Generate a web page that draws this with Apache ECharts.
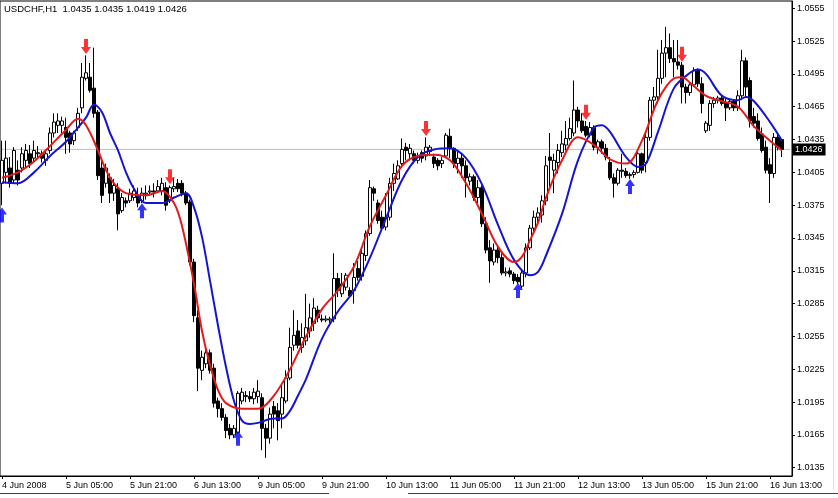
<!DOCTYPE html>
<html><head><meta charset="utf-8">
<script src="https://cdn.jsdelivr.net/npm/echarts@6/dist/echarts.min.js"></script>
<style>html,body{margin:0;padding:0;background:#fff}#c{width:838px;height:498px}</style>
</head><body><div id="c"></div>
<script>
const symbolName = 'USDCHF,H1';
const lastQuote = [1.0435, 1.0435, 1.0419, 1.0426];
const currentPrice = 1.0426;
const barCount = 198;
const tickLabels = ['4 Jun 2008','5 Jun 05:00','5 Jun 21:00','6 Jun 13:00','9 Jun 05:00','9 Jun 21:00','10 Jun 13:00','11 Jun 05:00','11 Jun 21:00','12 Jun 13:00','13 Jun 05:00','15 Jun 21:00','16 Jun 13:00'];
const priceTicks = [1.0135,1.0165,1.0195,1.0225,1.0255,1.0285,1.0315,1.0345,1.0375,1.0405,1.0435,1.0465,1.0495,1.0525,1.0555];
// [open, close, low, high]
const candles = [
[1.0395,1.0416,1.0375,1.0434],[1.0405,1.0418,1.0395,1.0434],[1.0409,1.0395,1.0391,1.0419],[1.0398,1.0425,1.0395,1.0428],
[1.0407,1.0398,1.0393,1.0416],[1.0409,1.0422,1.0405,1.0428],[1.0416,1.0425,1.0409,1.0431],[1.0422,1.0413,1.0409,1.0430],
[1.0418,1.0425,1.0414,1.0434],[1.0422,1.0423,1.0418,1.0429],[1.0422,1.0418,1.0414,1.0425],[1.0416,1.0422,1.0411,1.0425],
[1.0425,1.0441,1.0422,1.0446],[1.0441,1.0451,1.0437,1.0459],[1.0448,1.0452,1.0441,1.0459],[1.0448,1.0452,1.0441,1.0456],
[1.0446,1.0437,1.0422,1.0455],[1.0441,1.0431,1.0423,1.0443],[1.0434,1.0441,1.0430,1.0443],[1.0446,1.0459,1.0443,1.0464],
[1.0464,1.0492,1.0459,1.0505],[1.0491,1.0496,1.0489,1.0512],[1.0492,1.0480,1.0478,1.0505],[1.0482,1.0459,1.0455,1.0519],
[1.0460,1.0402,1.0398,1.0462],[1.0409,1.0384,1.0377,1.0416],[1.0395,1.0409,1.0391,1.0413],[1.0400,1.0386,1.0377,1.0404],
[1.0386,1.0393,1.0379,1.0399],[1.0390,1.0367,1.0352,1.0395],[1.0370,1.0382,1.0368,1.0386],[1.0379,1.0377,1.0373,1.0382],
[1.0379,1.0386,1.0377,1.0390],[1.0382,1.0388,1.0379,1.0393],[1.0384,1.0377,1.0373,1.0391],[1.0379,1.0386,1.0377,1.0391],
[1.0385,1.0386,1.0380,1.0393],[1.0387,1.0388,1.0384,1.0393],[1.0388,1.0387,1.0382,1.0395],[1.0388,1.0392,1.0386,1.0398],
[1.0388,1.0395,1.0384,1.0400],[1.0391,1.0375,1.0370,1.0396],[1.0379,1.0391,1.0377,1.0393],[1.0390,1.0392,1.0387,1.0400],
[1.0395,1.0390,1.0387,1.0399],[1.0395,1.0386,1.0383,1.0398],[1.0386,1.0377,1.0375,1.0388],[1.0378,1.0323,1.0320,1.0380],
[1.0323,1.0274,1.0268,1.0326],[1.0272,1.0226,1.0205,1.0279],[1.0224,1.0236,1.0215,1.0242],[1.0230,1.0240,1.0226,1.0245],
[1.0240,1.0224,1.0221,1.0243],[1.0226,1.0194,1.0190,1.0230],[1.0196,1.0189,1.0181,1.0199],[1.0189,1.0181,1.0178,1.0194],
[1.0181,1.0169,1.0162,1.0184],[1.0171,1.0165,1.0161,1.0175],[1.0165,1.0171,1.0162,1.0174],[1.0167,1.0203,1.0166,1.0205],
[1.0196,1.0204,1.0193,1.0208],[1.0200,1.0201,1.0195,1.0205],[1.0200,1.0198,1.0195,1.0205],[1.0198,1.0204,1.0193,1.0208],
[1.0200,1.0205,1.0194,1.0215],[1.0199,1.0171,1.0151,1.0203],[1.0171,1.0162,1.0144,1.0175],[1.0162,1.0184,1.0157,1.0190],
[1.0191,1.0184,1.0171,1.0196],[1.0187,1.0178,1.0160,1.0194],[1.0184,1.0199,1.0171,1.0212],[1.0196,1.0217,1.0194,1.0224],
[1.0217,1.0245,1.0215,1.0263],[1.0247,1.0256,1.0242,1.0279],[1.0260,1.0247,1.0244,1.0270],[1.0245,1.0254,1.0240,1.0267],
[1.0251,1.0263,1.0247,1.0294],[1.0260,1.0272,1.0254,1.0285],[1.0267,1.0281,1.0260,1.0290],[1.0279,1.0272,1.0268,1.0283],
[1.0271,1.0270,1.0268,1.0275],[1.0270,1.0271,1.0268,1.0274],[1.0270,1.0271,1.0267,1.0273],[1.0271,1.0308,1.0268,1.0331],
[1.0308,1.0297,1.0291,1.0313],[1.0294,1.0303,1.0291,1.0313],[1.0300,1.0311,1.0297,1.0313],[1.0297,1.0292,1.0291,1.0300],
[1.0297,1.0309,1.0285,1.0322],[1.0317,1.0309,1.0306,1.0324],[1.0310,1.0331,1.0306,1.0334],[1.0329,1.0349,1.0324,1.0352],
[1.0349,1.0391,1.0347,1.0398],[1.0390,1.0386,1.0379,1.0392],[1.0377,1.0361,1.0358,1.0380],[1.0364,1.0354,1.0352,1.0370],
[1.0355,1.0364,1.0352,1.0386],[1.0364,1.0395,1.0361,1.0400],[1.0395,1.0404,1.0388,1.0413],[1.0399,1.0411,1.0398,1.0416],
[1.0413,1.0426,1.0409,1.0436],[1.0428,1.0425,1.0416,1.0432],[1.0422,1.0427,1.0416,1.0431],[1.0422,1.0416,1.0413,1.0425],
[1.0416,1.0420,1.0413,1.0423],[1.0423,1.0418,1.0414,1.0425],[1.0420,1.0428,1.0416,1.0437],[1.0424,1.0428,1.0420,1.0430],
[1.0419,1.0413,1.0409,1.0422],[1.0416,1.0411,1.0407,1.0418],[1.0413,1.0416,1.0409,1.0419],[1.0420,1.0439,1.0418,1.0441],
[1.0438,1.0427,1.0418,1.0445],[1.0427,1.0413,1.0409,1.0428],[1.0413,1.0418,1.0404,1.0425],[1.0418,1.0411,1.0400,1.0422],
[1.0411,1.0400,1.0382,1.0416],[1.0397,1.0401,1.0393,1.0404],[1.0401,1.0382,1.0379,1.0403],[1.0382,1.0391,1.0377,1.0398],
[1.0391,1.0358,1.0355,1.0393],[1.0358,1.0334,1.0331,1.0364],[1.0336,1.0324,1.0304,1.0343],[1.0323,1.0334,1.0320,1.0340],
[1.0334,1.0327,1.0322,1.0338],[1.0327,1.0313,1.0311,1.0331],[1.0313,1.0314,1.0310,1.0318],[1.0315,1.0312,1.0309,1.0318],
[1.0312,1.0306,1.0303,1.0314],[1.0309,1.0305,1.0303,1.0312],[1.0301,1.0313,1.0299,1.0315],[1.0313,1.0336,1.0309,1.0340],
[1.0336,1.0354,1.0334,1.0357],[1.0354,1.0364,1.0349,1.0370],[1.0364,1.0368,1.0358,1.0373],[1.0366,1.0379,1.0359,1.0384],
[1.0379,1.0411,1.0375,1.0420],[1.0419,1.0416,1.0391,1.0441],[1.0407,1.0416,1.0386,1.0422],[1.0414,1.0425,1.0404,1.0431],
[1.0423,1.0431,1.0419,1.0443],[1.0430,1.0436,1.0425,1.0452],[1.0436,1.0445,1.0434,1.0455],[1.0441,1.0462,1.0438,1.0489],
[1.0462,1.0452,1.0446,1.0465],[1.0452,1.0443,1.0441,1.0459],[1.0447,1.0439,1.0437,1.0452],[1.0439,1.0446,1.0437,1.0451],
[1.0446,1.0428,1.0425,1.0448],[1.0428,1.0433,1.0422,1.0435],[1.0433,1.0427,1.0422,1.0435],[1.0427,1.0419,1.0416,1.0431],
[1.0414,1.0400,1.0398,1.0419],[1.0400,1.0395,1.0382,1.0404],[1.0395,1.0407,1.0393,1.0409],[1.0407,1.0406,1.0400,1.0422],
[1.0406,1.0402,1.0400,1.0409],[1.0402,1.0403,1.0399,1.0405],[1.0403,1.0405,1.0400,1.0407],[1.0405,1.0422,1.0404,1.0425],
[1.0422,1.0407,1.0404,1.0423],[1.0414,1.0437,1.0405,1.0441],[1.0437,1.0471,1.0434,1.0474],[1.0471,1.0474,1.0462,1.0483],
[1.0474,1.0491,1.0468,1.0517],[1.0491,1.0514,1.0486,1.0526],[1.0514,1.0519,1.0492,1.0538],[1.0519,1.0509,1.0505,1.0532],
[1.0509,1.0506,1.0492,1.0526],[1.0506,1.0503,1.0499,1.0526],[1.0503,1.0483,1.0468,1.0506],[1.0483,1.0478,1.0468,1.0486],
[1.0478,1.0485,1.0475,1.0487],[1.0485,1.0498,1.0483,1.0501],[1.0498,1.0486,1.0483,1.0500],[1.0486,1.0468,1.0459,1.0492],
[1.0443,1.0450,1.0441,1.0452],[1.0448,1.0468,1.0443,1.0471],[1.0468,1.0471,1.0464,1.0474],[1.0471,1.0473,1.0468,1.0475],
[1.0473,1.0468,1.0466,1.0475],[1.0469,1.0464,1.0452,1.0474],[1.0464,1.0470,1.0462,1.0472],[1.0470,1.0464,1.0461,1.0472],
[1.0464,1.0475,1.0461,1.0480],[1.0475,1.0507,1.0471,1.0517],[1.0507,1.0483,1.0474,1.0510],[1.0489,1.0452,1.0446,1.0492],
[1.0456,1.0450,1.0446,1.0464],[1.0452,1.0436,1.0434,1.0459],[1.0440,1.0425,1.0423,1.0446],[1.0428,1.0407,1.0404,1.0434],
[1.0412,1.0404,1.0377,1.0418],[1.0404,1.0437,1.0400,1.0441],[1.0437,1.0428,1.0425,1.0440],[1.0435,1.0426,1.0419,1.0435]
];
// [bar index, value]
const redLine = [[0,1.0400],[4,1.0405],[8,1.0415],[12,1.0429],[16,1.0444],[19,1.0454],[21,1.0448],[24,1.0425],[26,1.0407],[28,1.0395],[31,1.0386],[36,1.0384],[40,1.0388],[43,1.0377],[45,1.0356],[48,1.0303],[50,1.0260],[52,1.0229],[54,1.0206],[56,1.0194],[60,1.0189],[64,1.0189],[68,1.0201],[72,1.0225],[76,1.0255],[80,1.0280],[84,1.0297],[88,1.0319],[92,1.0356],[96,1.0384],[100,1.0411],[104,1.0420],[108,1.0421],[112,1.0416],[116,1.0395],[120,1.0367],[124,1.0337],[128,1.0323],[130,1.0328],[132,1.0343],[134,1.0359],[136,1.0382],[140,1.0416],[144,1.0437],[148,1.0430],[152,1.0417],[156,1.0413],[160,1.0434],[164,1.0471],[168,1.0491],[170,1.0492],[172,1.0487],[176,1.0475],[180,1.0470],[184,1.0465],[188,1.0447],[192,1.0434],[195,1.0425]];
const blueLine = [[0,1.0396],[4,1.0395],[8,1.0405],[12,1.0420],[16,1.0433],[19,1.0446],[21,1.0455],[23,1.0467],[25,1.0460],[27,1.0441],[29,1.0425],[31,1.0405],[33,1.0390],[36,1.0377],[40,1.0377],[43,1.0382],[46,1.0386],[48,1.0373],[50,1.0346],[52,1.0306],[54,1.0265],[56,1.0227],[58,1.0196],[60,1.0178],[62,1.0175],[64,1.0176],[68,1.0180],[70,1.0180],[72,1.0187],[74,1.0201],[76,1.0216],[80,1.0253],[84,1.0278],[88,1.0297],[92,1.0327],[96,1.0363],[100,1.0398],[104,1.0419],[108,1.0426],[112,1.0427],[116,1.0418],[120,1.0394],[124,1.0357],[128,1.0325],[132,1.0311],[134,1.0314],[136,1.0329],[140,1.0367],[144,1.0416],[148,1.0446],[150,1.0448],[152,1.0442],[156,1.0419],[159,1.0410],[161,1.0413],[164,1.0442],[168,1.0482],[172,1.0496],[174,1.0499],[176,1.0495],[180,1.0475],[184,1.0471],[186,1.0474],[188,1.0470],[192,1.0451],[195,1.0434]];
const sellArrows = [[21,1.0520],[42,1.0401],[106,1.0445],[146,1.0460],[170,1.0513]];
const buyArrows = [[0,1.0366],[35,1.0370],[59,1.0162],[129,1.0297],[157,1.0392]];

const FONT = "'Liberation Sans',Arial,sans-serif";
const categories = Array.from({length: barCount}, (_, i) => String(i));
const priceLine = [[0, currentPrice], [barCount - 1, currentPrice]];
const downArrow = 'path://M3,0 L7,0 L7,8 L10,8 L5,15 L0,8 L3,8 Z';
const upArrow = 'path://M5,0 L10,7 L7,7 L7,15 L3,15 L3,7 L0,7 Z';

const chart = echarts.init(document.getElementById('c'), null, {renderer: 'canvas'});
chart.setOption({
  animation: false,
  backgroundColor: '#ffffff',
  title: {
    text: symbolName + '  ' + lastQuote.map(v => v.toFixed(4)).join(' '),
    left: 4, top: 4, padding: 0,
    textStyle: {fontSize: 9.5, fontWeight: 'normal', color: '#000', fontFamily: FONT}
  },
  grid: {left: 0, right: 46, top: 1, bottom: 22, show: true, borderColor: '#000', borderWidth: 1, backgroundColor: '#fff', outerBoundsMode: 'none', containLabel: false},
  xAxis: {
    type: 'category', data: categories, boundaryGap: true,
    axisLine: {show: true, lineStyle: {color: '#000', width: 1}},
    axisTick: {show: true, interval: 15, alignWithLabel: true, length: 3, lineStyle: {color: '#000'}},
    axisLabel: {interval: 15, align: 'left', margin: 5, color: '#000', fontSize: 9, fontFamily: FONT,
      formatter: (v, idx) => (idx % 16 === 0 ? (tickLabels[idx / 16] || '') : '')},
    splitLine: {show: false}
  },
  yAxis: {
    type: 'value', position: 'right', min: 1.012741, max: 1.056167, scale: true,
    axisLine: {show: true, lineStyle: {color: '#000', width: 1}},
    axisTick: {show: true, length: 3, customValues: priceTicks, lineStyle: {color: '#000'}},
    axisLabel: {customValues: priceTicks, margin: 5, color: '#000', fontSize: 9, fontFamily: FONT,
      formatter: v => Number(v).toFixed(4)},
    splitLine: {show: false}
  },
  series: [
    {
      type: 'line', data: priceLine, z: 1, silent: true, showSymbol: false,
      lineStyle: {color: '#c0c0c0', width: 1},
      endLabel: {show: true, distance: 3, formatter: () => currentPrice.toFixed(4),
        color: '#fff', backgroundColor: '#000', padding: [2, 3, 1, 2], fontSize: 9, fontFamily: FONT}
    },
    {
      type: 'candlestick', data: candles, z: 2, barWidth: 3, silent: true,
      itemStyle: {color: '#ffffff', color0: '#000000', borderColor: '#000000', borderColor0: '#000000', borderColorDoji: '#000000', borderWidth: 1}
    },
    {type: 'line', data: blueLine, smooth: 0.35, showSymbol: false, z: 3, silent: true, lineStyle: {color: '#1414d2', width: 2}},
    {type: 'line', data: redLine, smooth: 0.35, showSymbol: false, z: 4, silent: true, lineStyle: {color: '#e41a1a', width: 2}},
    {type: 'scatter', data: sellArrows, symbol: downArrow, symbolSize: [10, 15], z: 5, silent: true, itemStyle: {color: '#ff0000'}},
    {type: 'scatter', data: buyArrows, symbol: upArrow, symbolSize: [10, 15], z: 5, silent: true, itemStyle: {color: '#0000ff'}}
  ],
  graphic: [
    {type: 'line', shape: {x1: 0, y1: 493.5, x2: 329, y2: 493.5}, style: {stroke: '#404040', lineWidth: 1}, silent: true},
    {type: 'line', shape: {x1: 408, y1: 493.5, x2: 838, y2: 493.5}, style: {stroke: '#404040', lineWidth: 1}, silent: true},
    {type: 'line', shape: {x1: 833.5, y1: 0, x2: 833.5, y2: 490}, style: {stroke: '#e0e0e0', lineWidth: 1}, silent: true}
  ]
});
</script></body></html>
